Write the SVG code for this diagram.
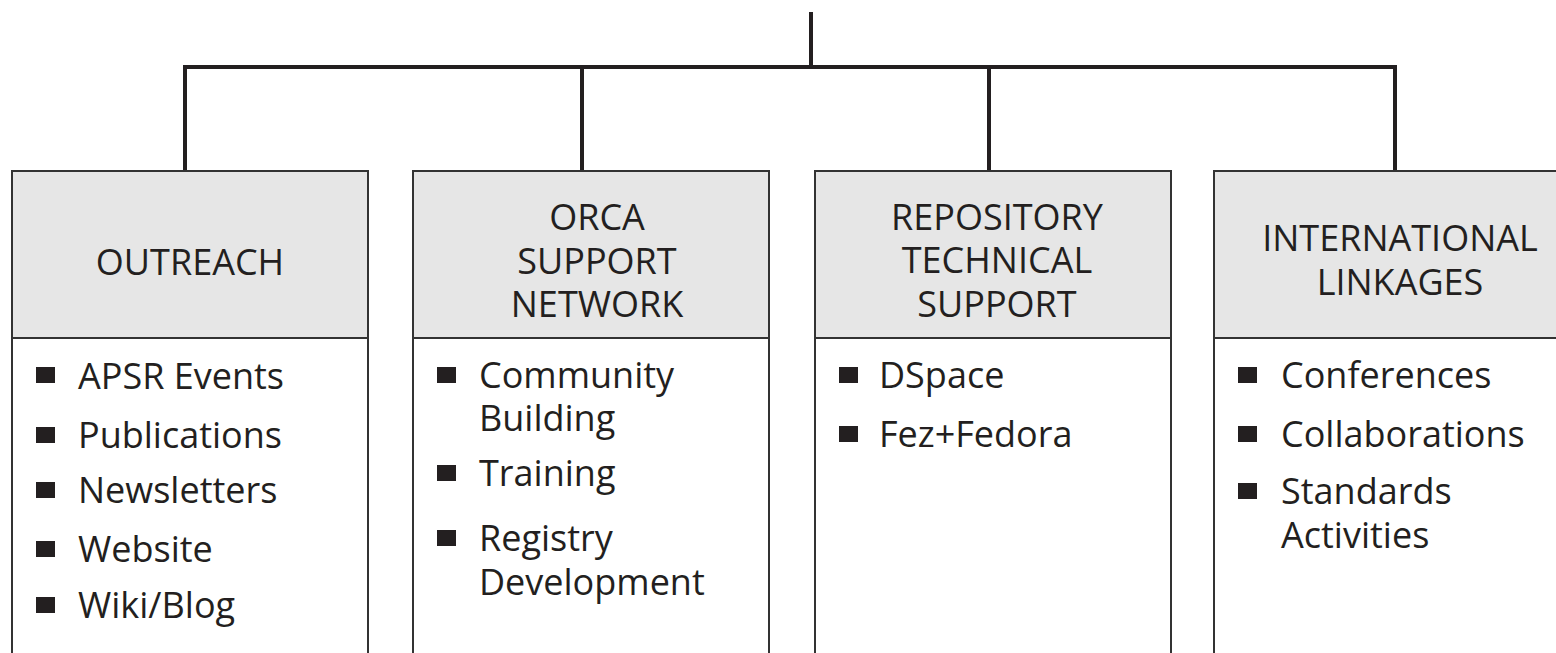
<svg xmlns="http://www.w3.org/2000/svg" width="1556" height="653" viewBox="0 0 1556 653">
<style>
.hdr{fill:#e6e6e6;stroke:#333;stroke-width:2}
.body{fill:#fff;stroke:#333;stroke-width:2}
.t{font-family:"Open Sans","Noto Sans",sans-serif;font-size:36px;font-weight:500;fill:#231f20}
.h{text-anchor:middle}
.b{fill:#231f20}
.c{stroke:#231f20;stroke-width:4;fill:none}
</style>
<rect width="1556" height="653" fill="#fff"/>
<g id="connectors">
<line class="c" x1="811" y1="12" x2="811" y2="67"/>
<line class="c" x1="183" y1="67" x2="1397" y2="67"/>
<line class="c" x1="185" y1="65" x2="185" y2="171"/>
<line class="c" x1="582" y1="65" x2="582" y2="171"/>
<line class="c" x1="989" y1="65" x2="989" y2="171"/>
<line class="c" x1="1395" y1="65" x2="1395" y2="171"/>
</g>
<g id="outreach">
<rect class="body" x="12" y="338" width="356" height="330"/>
<rect class="hdr" x="12" y="171" width="356" height="167"/>
<text class="t h" x="190" y="275">OUTREACH</text>
<rect class="b" x="36" y="367" width="19" height="16"/>
<text class="t" x="78" y="389">APSR Events</text>
<rect class="b" x="36" y="427" width="19" height="16"/>
<text class="t" x="78" y="448">Publications</text>
<rect class="b" x="36" y="482" width="19" height="16"/>
<text class="t" x="78" y="503">Newsletters</text>
<rect class="b" x="36" y="541" width="19" height="16"/>
<text class="t" x="78" y="562">Website</text>
<rect class="b" x="36" y="597" width="19" height="16"/>
<text class="t" x="78" y="618">Wiki/Blog</text>
</g>
<g id="orca">
<rect class="body" x="413" y="338" width="356" height="330"/>
<rect class="hdr" x="413" y="171" width="356" height="167"/>
<text class="t h" x="597" y="230">ORCA</text>
<text class="t h" x="597" y="274">SUPPORT</text>
<text class="t h" x="597" y="317">NETWORK</text>
<rect class="b" x="437" y="367" width="19" height="16"/>
<text class="t" x="479" y="388">Community</text>
<text class="t" x="479" y="431">Building</text>
<rect class="b" x="437" y="465" width="19" height="16"/>
<text class="t" x="479" y="486">Training</text>
<rect class="b" x="437" y="530" width="19" height="16"/>
<text class="t" x="479" y="551">Registry</text>
<text class="t" x="479" y="595">Development</text>
</g>
<g id="repository">
<rect class="body" x="815" y="338" width="356" height="330"/>
<rect class="hdr" x="815" y="171" width="356" height="167"/>
<text class="t h" x="997" y="230">REPOSITORY</text>
<text class="t h" x="997" y="273">TECHNICAL</text>
<text class="t h" x="997" y="317">SUPPORT</text>
<rect class="b" x="839" y="367" width="19" height="16"/>
<text class="t" x="879" y="388">DSpace</text>
<rect class="b" x="839" y="426" width="19" height="16"/>
<text class="t" x="879" y="447">Fez+Fedora</text>
</g>
<g id="international">
<rect class="body" x="1214" y="338" width="356" height="330"/>
<rect class="hdr" x="1214" y="171" width="356" height="167"/>
<text class="t h" x="1400" y="251">INTERNATIONAL</text>
<text class="t h" x="1400" y="295">LINKAGES</text>
<rect class="b" x="1238" y="367" width="19" height="16"/>
<text class="t" x="1281" y="388">Conferences</text>
<rect class="b" x="1238" y="426" width="19" height="16"/>
<text class="t" x="1281" y="447">Collaborations</text>
<rect class="b" x="1238" y="483" width="19" height="16"/>
<text class="t" x="1281" y="504">Standards</text>
<text class="t" x="1281" y="548">Activities</text>
</g>
</svg>
